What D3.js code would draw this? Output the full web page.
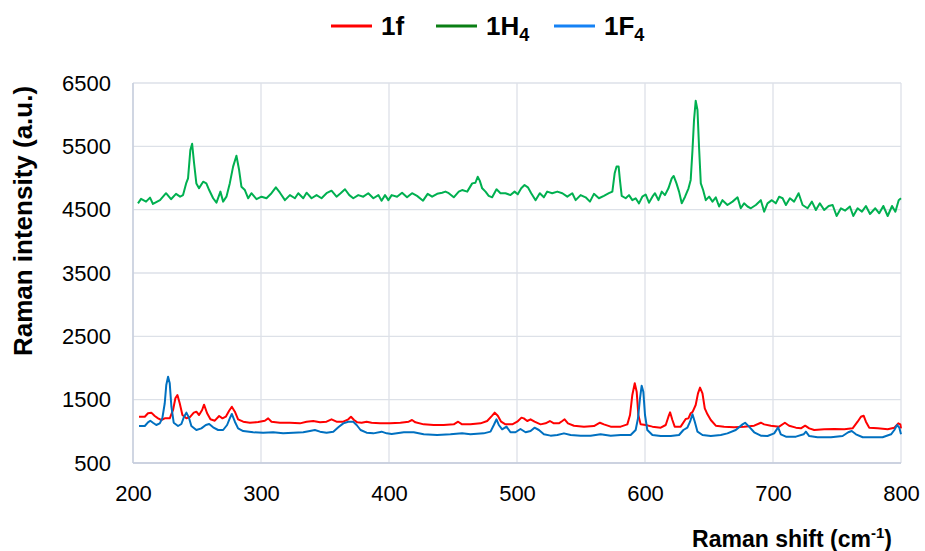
<!DOCTYPE html>
<html>
<head>
<meta charset="utf-8">
<script src="https://cdn.jsdelivr.net/npm/d3@7"></script>
<style>
  body { margin: 0; background: #fff; }
  text { font-family: "Liberation Sans", Arial, sans-serif; }
</style>
</head>
<body>
<script>
// Raman spectra: [shift (cm-1), intensity (a.u.)]
var series1H4 = [
  [203.9,4600],[206.3,4670],[210.2,4627],[213.3,4690],[215.6,4590],[221.1,4650],[225.8,4760],[229.7,4665],
  [233.6,4750],[236.8,4705],[239.1,4730],[241.5,4915],[243.0,4995],[244.8,5440],[246.2,5540],[247.7,5237],
  [249.5,4915],[251.6,4840],[254.8,4942],[257.3,4915],[259.5,4810],[262.6,4680],[265.2,4610],[268.3,4785],
  [270.4,4627],[273.0,4705],[275.6,4915],[278.2,5180],[280.8,5352],[282.9,5126],[284.7,4863],[287.4,4810],
  [290.0,4680],[292.5,4760],[296.5,4665],[300.4,4705],[304.3,4680],[308.2,4760],[311.6,4853],[314.8,4768],
  [318.7,4650],[322.6,4730],[326.5,4680],[329.1,4760],[333.0,4680],[335.6,4768],[339.5,4680],[343.4,4730],
  [347.3,4680],[351.2,4760],[355.1,4800],[359.0,4705],[362.2,4760],[365.6,4822],[369.0,4730],[372.1,4680],
  [376.0,4730],[379.9,4705],[383.8,4760],[387.8,4680],[391.7,4730],[394.2,4642],[396.9,4730],[399.5,4650],
  [402.1,4730],[406.3,4705],[410.2,4768],[414.1,4695],[418.0,4760],[421.9,4718],[426.6,4642],[430.2,4750],
  [433.7,4705],[437.6,4750],[441.5,4768],[444.1,4785],[446.7,4760],[450.6,4695],[454.5,4785],[457.1,4810],
  [461.1,4785],[465.0,4915],[467.5,4925],[469.3,5020],[470.9,4958],[472.8,4837],[475.4,4785],[477.9,4718],
  [480.6,4695],[484.0,4822],[487.1,4760],[491.0,4760],[494.9,4730],[498.1,4785],[500.6,4742],[503.3,4837],
  [505.9,4890],[508.5,4853],[511.1,4760],[514.5,4650],[517.8,4760],[521.0,4695],[523.6,4785],[527.5,4760],
  [531.5,4785],[535.4,4760],[539.3,4705],[543.2,4760],[545.8,4650],[549.7,4730],[553.6,4695],[557.0,4627],
  [560.1,4750],[564.0,4680],[567.9,4718],[571.8,4760],[574.5,4785],[576.3,5074],[577.8,5180],[579.4,5180],
  [580.4,4970],[581.8,4718],[584.9,4680],[587.5,4730],[590.1,4650],[592.7,4680],[595.3,4600],[597.9,4705],
  [600.5,4740],[603.1,4610],[605.8,4705],[607.8,4760],[610.5,4650],[613.1,4785],[615.6,4730],[618.3,4837],
  [620.9,4995],[622.4,5032],[624.6,4915],[626.6,4785],[628.7,4600],[631.3,4705],[634.0,4837],[635.7,4970],
  [637.1,5440],[638.3,5915],[639.6,6220],[641.0,6074],[642.2,5495],[643.6,4915],[645.4,4810],[647.5,4650],
  [650.1,4705],[652.7,4627],[655.3,4695],[657.9,4550],[660.5,4650],[664.4,4574],[668.4,4627],[672.3,4695],
  [674.8,4522],[677.4,4600],[680.1,4550],[682.7,4522],[686.6,4574],[690.5,4650],[693.1,4468],[695.7,4600],
  [699.1,4650],[702.2,4600],[704.8,4705],[707.5,4680],[710.1,4574],[713.2,4680],[716.5,4627],[720.0,4760],
  [723.1,4574],[727.0,4522],[730.4,4627],[733.5,4495],[736.6,4600],[740.0,4495],[743.5,4558],[746.6,4574],
  [749.7,4400],[753.1,4522],[756.4,4485],[760.1,4550],[762.7,4400],[766.1,4522],[769.5,4468],[772.6,4558],
  [775.8,4432],[779.9,4522],[783.0,4443],[786.2,4558],[789.6,4400],[793.0,4558],[795.6,4468],[798.2,4650],
  [800.0,4680]
];

var series1f = [
  [204.7,1231],[209.2,1231],[211.7,1285],[214.3,1295],[217.0,1242],[219.6,1205],[222.1,1179],[224.8,1205],
  [228.7,1205],[231.3,1337],[233.1,1522],[234.7,1574],[236.5,1443],[238.6,1258],[241.7,1205],[244.8,1231],
  [247.5,1295],[249.5,1310],[251.6,1258],[254.0,1337],[255.5,1421],[257.9,1285],[260.5,1190],[263.9,1168],
  [267.3,1242],[269.9,1205],[272.5,1231],[275.1,1326],[277.2,1389],[279.6,1310],[282.1,1190],[286.1,1152],
  [291.3,1136],[297.8,1147],[303.0,1168],[305.6,1205],[308.2,1152],[314.8,1136],[322.6,1136],[330.4,1126],
  [335.6,1152],[340.8,1163],[346.1,1142],[351.2,1152],[355.1,1190],[359.0,1152],[364.3,1152],[368.2,1190],
  [370.3,1231],[372.7,1179],[375.2,1142],[378.6,1136],[382.5,1152],[386.4,1136],[393.0,1126],[400.8,1126],
  [408.9,1136],[415.4,1152],[418.0,1179],[420.6,1142],[427.1,1110],[434.9,1100],[442.7,1100],[450.6,1110],
  [454.0,1152],[457.1,1110],[463.6,1110],[471.5,1126],[476.7,1163],[480.6,1247],[482.6,1295],[485.0,1247],
  [487.6,1152],[491.0,1110],[496.3,1110],[500.2,1152],[503.5,1216],[505.3,1205],[508.0,1163],[510.6,1190],
  [513.7,1152],[518.4,1110],[522.3,1126],[525.7,1163],[528.8,1126],[532.7,1126],[535.4,1163],[537.2,1190],
  [539.8,1126],[544.5,1089],[552.3,1074],[560.1,1084],[564.8,1136],[567.9,1110],[573.2,1074],[581.0,1074],
  [586.2,1110],[588.3,1258],[590.1,1574],[592.0,1758],[593.5,1626],[594.8,1258],[596.6,1110],[600.5,1100],
  [605.8,1074],[612.3,1058],[616.2,1100],[618.3,1231],[619.6,1300],[621.4,1179],[623.2,1074],[627.9,1074],
  [631.8,1195],[633.9,1205],[635.7,1285],[637.3,1310],[639.6,1416],[641.4,1600],[643.0,1690],[644.9,1600],
  [646.7,1363],[648.8,1269],[651.4,1179],[655.3,1089],[661.8,1074],[669.6,1063],[677.4,1074],[685.3,1089],
  [690.5,1136],[693.1,1110],[698.3,1089],[704.8,1074],[709.3,1136],[712.6,1089],[717.9,1058],[721.8,1047],
  [725.1,1089],[728.3,1047],[732.2,1021],[740.0,1032],[747.8,1037],[755.7,1032],[762.2,1047],[766.1,1152],
  [768.7,1231],[770.8,1247],[772.6,1152],[775.2,1058],[781.8,1047],[789.6,1032],[794.8,1058],[797.9,1126],
  [799.5,1110],[800.0,1047]
];

var series1F4 = [
  [204.7,1084],[209.2,1084],[211.7,1142],[213.5,1168],[215.6,1136],[218.2,1100],[220.9,1126],[222.9,1205],
  [224.8,1443],[226.0,1732],[227.4,1863],[228.7,1758],[230.0,1389],[231.8,1136],[235.2,1084],[237.8,1116],
  [239.9,1231],[241.7,1295],[243.6,1221],[245.6,1084],[249.5,1021],[253.4,1047],[256.9,1100],[259.5,1116],
  [262.6,1063],[266.5,1021],[270.4,1021],[273.5,1100],[275.6,1205],[277.2,1274],[279.6,1152],[282.1,1047],
  [286.1,1005],[293.9,985],[301.7,979],[309.5,985],[317.3,968],[325.2,979],[333.0,985],[338.2,1005],
  [342.1,1021],[346.1,995],[351.2,979],[356.5,995],[360.4,1063],[364.3,1126],[368.2,1152],[372.1,1152],
  [374.7,1100],[377.8,1021],[382.5,979],[387.8,968],[394.2,995],[398.2,968],[402.1,958],[411.6,985],
  [419.3,985],[427.1,953],[437.6,942],[448.0,953],[457.1,968],[463.6,953],[474.0,968],[479.3,995],
  [481.9,1100],[484.0,1190],[485.8,1100],[488.4,1032],[491.8,1074],[494.9,985],[498.8,985],[502.7,1037],
  [506.7,985],[510.6,1005],[513.7,1058],[517.1,1021],[521.0,953],[526.2,932],[531.5,942],[536.7,968],
  [541.9,942],[549.7,932],[557.5,932],[565.3,953],[573.2,932],[581.0,942],[588.8,942],[592.7,1021],
  [594.5,1205],[596.1,1522],[597.4,1721],[598.7,1626],[600.0,1258],[601.8,1021],[605.8,942],[612.3,926],
  [620.1,926],[626.6,942],[630.0,1021],[633.1,1058],[635.2,1152],[637.1,1269],[638.9,1152],[641.0,995],
  [644.9,942],[651.4,926],[659.2,942],[664.4,968],[670.9,1021],[676.2,1110],[678.2,1136],[681.3,1074],
  [685.3,985],[690.5,932],[695.7,926],[700.9,968],[704.0,1063],[706.1,953],[710.1,916],[717.9,916],
  [723.9,953],[725.7,995],[728.3,926],[734.8,906],[745.3,906],[754.4,926],[758.8,985],[761.5,1005],
  [764.8,953],[770.1,906],[777.9,906],[785.6,906],[792.2,953],[794.8,1021],[796.9,1100],[798.7,1058],
  [800.0,953]
];

var xTicks = [200, 300, 400, 500, 600, 700, 800];
var yTicks = [500, 1500, 2500, 3500, 4500, 5500, 6500];

var legendItems = [
  { name: "1f", sub: "", line: "#ff0000", plot: "#ff0000", data: series1f },
  { name: "1H", sub: "4", line: "#0a7f14", plot: "#00b050", data: series1H4 },
  { name: "1F", sub: "4", line: "#1582f5", plot: "#0070c0", data: series1F4 }
];

var svgWidth = 925;
var svgHeight = 551;
var margin = { top: 83, right: 24, bottom: 88, left: 133 };
var width = svgWidth - margin.left - margin.right;
var height = svgHeight - margin.top - margin.bottom;

var svg = d3.select("body")
  .append("svg")
  .attr("width", svgWidth)
  .attr("height", svgHeight);

var chartGroup = svg.append("g")
  .attr("transform", `translate(${margin.left}, ${margin.top})`);

var xScale = d3.scaleLinear().domain([200, 800]).range([0, width]);
var yScale = d3.scaleLinear().domain([500, 6500]).range([height, 0]);

// gridlines
chartGroup.append("g")
  .selectAll("line.vgrid")
  .data(xTicks)
  .enter().append("line")
  .attr("x1", d => xScale(d)).attr("x2", d => xScale(d))
  .attr("y1", 0).attr("y2", height)
  .attr("stroke", "#dde1e8").attr("stroke-width", 1.3);

chartGroup.append("g")
  .selectAll("line.hgrid")
  .data(yTicks)
  .enter().append("line")
  .attr("x1", 0).attr("x2", width)
  .attr("y1", d => yScale(d)).attr("y2", d => yScale(d))
  .attr("stroke", "#dde1e8").attr("stroke-width", 1.3);

// axis lines
chartGroup.append("line")
  .attr("x1", 0).attr("x2", 0).attr("y1", 0).attr("y2", height)
  .attr("stroke", "#c3cbdb").attr("stroke-width", 1.3);
chartGroup.append("line")
  .attr("x1", 0).attr("x2", width).attr("y1", height).attr("y2", height)
  .attr("stroke", "#c3cbdb").attr("stroke-width", 1.3);

// tick labels
var bottomAxis = d3.axisBottom(xScale).tickValues(xTicks).tickSize(0).tickPadding(22)
  .tickFormat(d3.format("d"));
var leftAxis = d3.axisLeft(yScale).tickValues(yTicks).tickSize(0).tickPadding(22)
  .tickFormat(d3.format("d"));

var xAxisG = chartGroup.append("g")
  .attr("transform", `translate(0, ${height})`)
  .call(bottomAxis);
var yAxisG = chartGroup.append("g").call(leftAxis);

[xAxisG, yAxisG].forEach(function (g) {
  g.select(".domain").remove();
  g.selectAll("text")
    .attr("fill", "#000")
    .style("font-size", "22px")
    .style("font-family", "'Liberation Sans', Arial, sans-serif");
});

// spectra
var line = d3.line()
  .x(d => xScale(d[0]))
  .y(d => yScale(d[1]));

legendItems.forEach(function (s) {
  chartGroup.append("path")
    .datum(s.data)
    .attr("d", line)
    .attr("fill", "none")
    .attr("stroke", s.plot)
    .attr("stroke-width", 2)
    .attr("stroke-linejoin", "round");
});

// axis titles
svg.append("text")
  .attr("transform", "translate(32, 221) rotate(-90)")
  .attr("text-anchor", "middle")
  .style("font-size", "26px")
  .style("font-weight", "bold")
  .text("Raman intensity (a.u.)");

var xTitle = svg.append("text")
  .attr("x", 892)
  .attr("y", 547)
  .attr("text-anchor", "end")
  .style("font-size", "23px")
  .style("font-weight", "bold");
xTitle.append("tspan").text("Raman shift (cm");
xTitle.append("tspan").attr("dy", -9).style("font-size", "15px").text("-1");
xTitle.append("tspan").attr("dy", 9).text(")");

// legend
var legendX = [331, 436, 554];
legendItems.forEach(function (s, i) {
  var g = svg.append("g").attr("transform", `translate(${legendX[i]}, 26)`);
  g.append("line")
    .attr("x1", 0).attr("x2", 41)
    .attr("y1", 0).attr("y2", 0)
    .attr("stroke", s.line)
    .attr("stroke-width", 3);
  var t = g.append("text")
    .attr("x", 50)
    .attr("y", 9)
    .style("font-size", "26px")
    .style("font-weight", "bold");
  t.append("tspan").text(s.name);
  if (s.sub) {
    t.append("tspan").attr("dy", 6).style("font-size", "18px").text(s.sub);
  }
});
</script>
</body>
</html>
